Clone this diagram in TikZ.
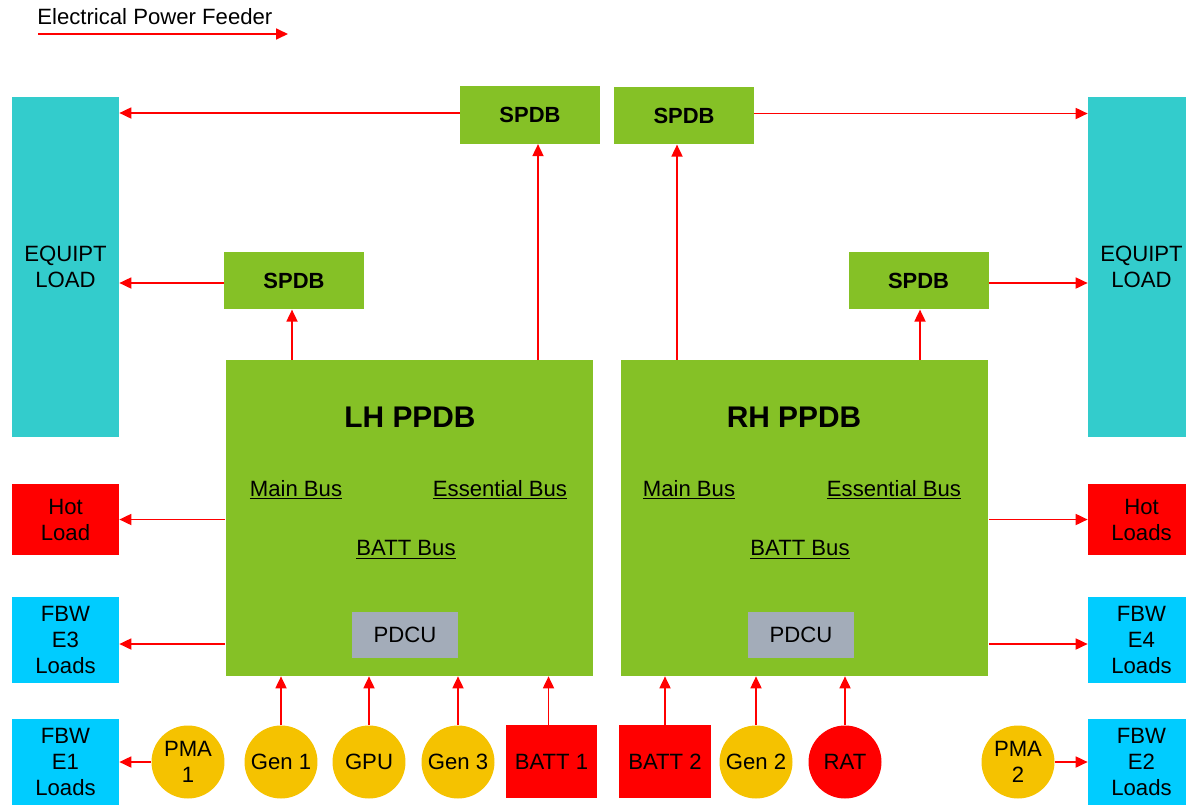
\documentclass[tikz,border=0pt]{standalone}
\usepackage{fontspec}
\setmainfont{Liberation Sans}
\usetikzlibrary{arrows.meta}
\definecolor{ppdbgreen}{RGB}{133,193,38}
\definecolor{equiptcyan}{RGB}{51,204,204}
\definecolor{fbwblue}{RGB}{0,204,255}
\definecolor{loadred}{RGB}{255,0,0}
\definecolor{srcgold}{RGB}{245,194,0}
\definecolor{pdcugray}{RGB}{163,172,185}
\begin{document}
\begin{tikzpicture}[x=0.02cm,y=-0.02cm,
  every node/.style={font=\fontsize{12.6}{14.8}\selectfont,align=center,inner sep=0pt},
  feed/.style={draw=loadred,line width=1pt,-{Triangle[length=0.24cm,width=0.22cm,fill=loadred]}},
  spdb/.style={fill=ppdbgreen,minimum width=2.8cm,minimum height=1.15cm,font=\fontsize{12.5}{15}\selectfont\bfseries},
  ppdb/.style={fill=ppdbgreen,minimum width=7.36cm,minimum height=6.32cm},
  ppdbtitle/.style={font=\fontsize{17}{20}\selectfont\bfseries},
  pdcu/.style={fill=pdcugray,minimum width=2.12cm,minimum height=0.92cm},
  load/.style={fill=#1,minimum width=2.14cm},
  src/.style={circle,fill=#1,minimum size=1.46cm},
  batt/.style={fill=loadred,minimum width=1.83cm,minimum height=1.46cm}]
\useasboundingbox (0,0) rectangle (1186,805);
\clip (0,0) rectangle (1186,805);
% legend
\node[anchor=west] (lgtxt) at (37,17) {Electrical Power Feeder};
\coordinate (lgA) at (38,34);
\coordinate (lgB) at (288,34);
\draw[feed] (lgA) -- (lgB);
% primary boxes
\node[ppdb] (lh) at (409.5,518) {};
\node[ppdb] (rh) at (804.5,518) {};
\node[ppdbtitle] (lhT) at (410,417) {LH PPDB};
\node[ppdbtitle] (rhT) at (794,417) {RH PPDB};
\node (lhMain) at (296,490) {\underline{Main Bus}};
\node (lhEss) at (500,490) {\underline{Essential Bus}};
\node (lhBatt) at (406,550) {\underline{BATT Bus}};
\node (rhMain) at (689,490) {\underline{Main Bus}};
\node (rhEss) at (894,490) {\underline{Essential Bus}};
\node (rhBatt) at (800,550) {\underline{BATT Bus}};
\node[pdcu] (lhPdcu) at (405,635) {PDCU};
\node[pdcu] (rhPdcu) at (801,635) {PDCU};
% secondary boxes
\node[spdb] (spdbTL) at (530,115) {SPDB};
\node[spdb] (spdbTR) at (684,115.5) {SPDB};
\node[spdb] (spdbML) at (294,280.5) {SPDB};
\node[spdb] (spdbMR) at (918.5,280.5) {SPDB};
% loads
\node[load=equiptcyan,minimum height=6.8cm] (eqL) at (65.5,267) {EQUIPT\\LOAD};
\node[load=equiptcyan,minimum height=6.8cm] (eqR) at (1141.5,267) {EQUIPT\\LOAD};
\node[load=loadred,minimum height=1.42cm] (hotL) at (65.5,519.5) {Hot\\Load};
\node[load=loadred,minimum height=1.42cm] (hotR) at (1141.5,519.5) {Hot\\Loads};
\node[load=fbwblue,minimum height=1.72cm] (fbwE3) at (65.5,640) {FBW\\E3\\Loads};
\node[load=fbwblue,minimum height=1.72cm] (fbwE4) at (1141.5,640) {FBW\\E4\\Loads};
\node[load=fbwblue,minimum height=1.72cm] (fbwE1) at (65.5,762) {FBW\\E1\\Loads};
\node[load=fbwblue,minimum height=1.72cm] (fbwE2) at (1141.5,762) {FBW\\E2\\Loads};
% sources
\node[src=srcgold] (pma1) at (188,762) {PMA\\1};
\node[src=srcgold] (gen1) at (281,762) {Gen 1};
\node[src=srcgold] (gpu) at (369,762) {GPU};
\node[src=srcgold] (gen3) at (458,762) {Gen 3};
\node[batt] (batt1) at (551.5,761.5) {BATT 1};
\node[batt] (batt2) at (665,761.5) {BATT 2};
\node[src=srcgold] (gen2) at (756,762) {Gen 2};
\node[src=loadred] (rat) at (845,762) {RAT};
\node[src=srcgold] (pma2) at (1018,762) {PMA\\2};
% feeders up
\draw[feed] (gen1.north) -- (gen1.north |- lh.south);
\draw[feed] (gpu.north) -- (gpu.north |- lh.south);
\draw[feed] (gen3.north) -- (gen3.north |- lh.south);
\draw[feed] ([xshift=-0.06cm]batt1.north) -- ([xshift=-0.06cm]batt1.north |- lh.south);
\draw[feed] (batt2.north) -- (batt2.north |- rh.south);
\draw[feed] (gen2.north) -- (gen2.north |- rh.south);
\draw[feed] (rat.north) -- (rat.north |- rh.south);
\draw[feed] ([xshift=-0.04cm]spdbML.south |- lh.north) -- ([xshift=-0.04cm]spdbML.south);
\draw[feed] ([xshift=0.16cm]spdbTL.south |- lh.north) -- ([xshift=0.16cm]spdbTL.south);
\draw[feed] ([xshift=-0.14cm]spdbTR.south |- rh.north) -- ([xshift=-0.14cm]spdbTR.south);
\draw[feed] ([xshift=0.03cm]spdbMR.south |- rh.north) -- ([xshift=0.03cm]spdbMR.south);
% feeders out
\draw[feed] ([yshift=0.04cm]spdbTL.west) -- ([yshift=0.04cm]spdbTL.west -| eqL.east);
\draw[feed] ([yshift=0.04cm]spdbTR.east) -- ([yshift=0.04cm]spdbTR.east -| eqR.west);
\draw[feed] ([yshift=-0.05cm]spdbML.west) -- ([yshift=-0.05cm]spdbML.west -| eqL.east);
\draw[feed] ([yshift=-0.05cm]spdbMR.east) -- ([yshift=-0.05cm]spdbMR.east -| eqR.west);
\draw[feed] (hotL.east -| lh.west) -- (hotL.east);
\draw[feed] (hotR.west -| rh.east) -- (hotR.west);
\draw[feed] ([yshift=-0.08cm]fbwE3.east -| lh.west) -- ([yshift=-0.08cm]fbwE3.east);
\draw[feed] ([yshift=-0.08cm]fbwE4.west -| rh.east) -- ([yshift=-0.08cm]fbwE4.west);
\draw[feed] (pma1.west) -- (fbwE1.east |- pma1.west);
\draw[feed] (pma2.east) -- (fbwE2.west |- pma2.east);
\end{tikzpicture}
\end{document}
